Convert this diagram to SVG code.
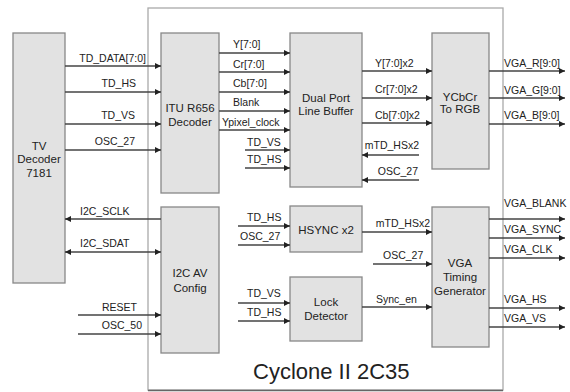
<svg xmlns="http://www.w3.org/2000/svg" width="570" height="392" viewBox="0 0 570 392">
<style>
.blk{fill:#e2e2e2;stroke:#888;stroke-width:1.3}
.out{fill:#fff;stroke:#aaa;stroke-width:1.3}
.t{font-family:"Liberation Sans",Arial,sans-serif;font-size:10.5px;fill:#222}
.bt{font-family:"Liberation Sans",Arial,sans-serif;font-size:11.5px;fill:#222;text-anchor:middle}
.w{stroke:#444;stroke-width:1.5;fill:none}
.a{marker-end:url(#ah)}
.m{text-anchor:end}
</style>
<defs>
<marker id="ah" markerWidth="7" markerHeight="6" refX="6" refY="3" orient="auto" markerUnits="userSpaceOnUse"><path d="M0,0 L6,3 L0,6 z" fill="#222"/></marker>
<marker id="as" markerWidth="7" markerHeight="6" refX="0" refY="3" orient="auto" markerUnits="userSpaceOnUse"><path d="M6,0 L0,3 L6,6 z" fill="#222"/></marker>
</defs>
<g id="cyclone"><rect class="out" x="148" y="8" width="355" height="382"/><path d="M148,390.5H503" stroke="#666" stroke-width="1.5"/><text x="253" y="379" font-family="Liberation Sans,Arial,sans-serif" font-size="22" fill="#222">Cyclone II 2C35</text></g>
<g id="tv"><rect class="blk" x="13" y="33" width="52" height="250"/><text class="bt" x="39" y="150">TV</text><text class="bt" x="39" y="163">Decoder</text><text class="bt" x="39" y="177">7181</text></g>
<g id="itu"><rect class="blk" x="161" y="33" width="58" height="160"/><text class="bt" x="190" y="112">ITU R656</text><text class="bt" x="190" y="126">Decoder</text></g>
<g id="i2c"><rect class="blk" x="161" y="207" width="58" height="146"/><text class="bt" x="190" y="277">I2C AV</text><text class="bt" x="190" y="292">Config</text></g>
<g id="dpb"><rect class="blk" x="290" y="33" width="72" height="154"/><text class="bt" x="326" y="102">Dual Port</text><text class="bt" x="326" y="115">Line Buffer</text></g>
<g id="ycc"><rect class="blk" x="432" y="33" width="57" height="136"/><text class="bt" x="460" y="101">YCbCr</text><text class="bt" x="460" y="113">To RGB</text></g>
<g id="hsync"><rect class="blk" x="290" y="206" width="72" height="46"/><text class="bt" x="326" y="234">HSYNC x2</text></g>
<g id="lock"><rect class="blk" x="290" y="277" width="72" height="64"/><text class="bt" x="326" y="306">Lock</text><text class="bt" x="326" y="320">Detector</text></g>
<g id="vga"><rect class="blk" x="432" y="207" width="57" height="140"/><text class="bt" x="460" y="267">VGA</text><text class="bt" x="460" y="281">Timing</text><text class="bt" x="460" y="295">Generator</text></g>
<g id="connectors">
<path class="w a" d="M65,66H161"/><text class="t m" x="146" y="62">TD_DATA[7:0]</text>
<path class="w a" d="M65,92H161"/><text class="t m" x="136" y="87">TD_HS</text>
<path class="w a" d="M65,124H161"/><text class="t m" x="135" y="119">TD_VS</text>
<path class="w a" d="M65,150H161"/><text class="t m" x="135" y="145">OSC_27</text>
<path class="w a" d="M161,219H65"/><text class="t" x="80" y="215">I2C_SCLK</text>
<path class="w a" d="M161,252H65" marker-start="url(#as)"/><text class="t" x="80" y="247">I2C_SDAT</text>
<path class="w a" d="M78,315H161"/><text class="t m" x="137" y="311">RESET</text>
<path class="w a" d="M78,334H161"/><text class="t m" x="142" y="329">OSC_50</text>
<path class="w a" d="M219,53H290"/><text class="t" x="233" y="48">Y[7:0]</text>
<path class="w a" d="M219,72H290"/><text class="t" x="233" y="68">Cr[7:0]</text>
<path class="w a" d="M219,92H290"/><text class="t" x="233" y="87">Cb[7:0]</text>
<path class="w a" d="M219,111H290"/><text class="t" x="233" y="106">Blank</text>
<path class="w a" d="M219,130H290"/><text class="t" x="222" y="126">Ypixel_clock</text>
<path class="w a" d="M245,150H290"/><text class="t" x="247" y="146">TD_VS</text>
<path class="w a" d="M245,168H290"/><text class="t" x="247" y="163">TD_HS</text>
<path class="w a" d="M362,71H432"/><text class="t" x="375" y="67">Y[7:0]x2</text>
<path class="w a" d="M362,98H432"/><text class="t" x="375" y="93">Cr[7:0]x2</text>
<path class="w a" d="M362,123H432"/><text class="t" x="375" y="119">Cb[7:0]x2</text>
<path class="w a" d="M419,155H362"/><text class="t m" x="419" y="149">mTD_HSx2</text>
<path class="w a" d="M419,180H362"/><text class="t m" x="418" y="175">OSC_27</text>
<path class="w a" d="M489,71H565"/><text class="t" x="504" y="67">VGA_R[9:0]</text>
<path class="w a" d="M489,98H565"/><text class="t" x="504" y="94">VGA_G[9:0]</text>
<path class="w a" d="M489,124H565"/><text class="t" x="504" y="119">VGA_B[9:0]</text>
<path class="w a" d="M238,226H290"/><text class="t" x="247" y="221">TD_HS</text>
<path class="w a" d="M238,245H290"/><text class="t" x="240" y="240">OSC_27</text>
<path class="w a" d="M238,303H290"/><text class="t" x="247" y="297">TD_VS</text>
<path class="w a" d="M238,321H290"/><text class="t" x="247" y="316">TD_HS</text>
<path class="w a" d="M362,232H432"/><text class="t m" x="430" y="227">mTD_HSx2</text>
<path class="w a" d="M373,264H432"/><text class="t" x="383" y="259">OSC_27</text>
<path class="w a" d="M362,307H432"/><text class="t" x="376" y="303">Sync_en</text>
<path class="w a" d="M489,219H565"/><text class="t" x="504" y="207">VGA_BLANK</text>
<path class="w a" d="M489,238H565"/><text class="t" x="504" y="233">VGA_SYNC</text>
<path class="w a" d="M489,258H565"/><text class="t" x="504" y="253">VGA_CLK</text>
<path class="w a" d="M489,308H565"/><text class="t" x="504" y="303">VGA_HS</text>
<path class="w a" d="M489,327H565"/><text class="t" x="504" y="322">VGA_VS</text>
</g>
</svg>
